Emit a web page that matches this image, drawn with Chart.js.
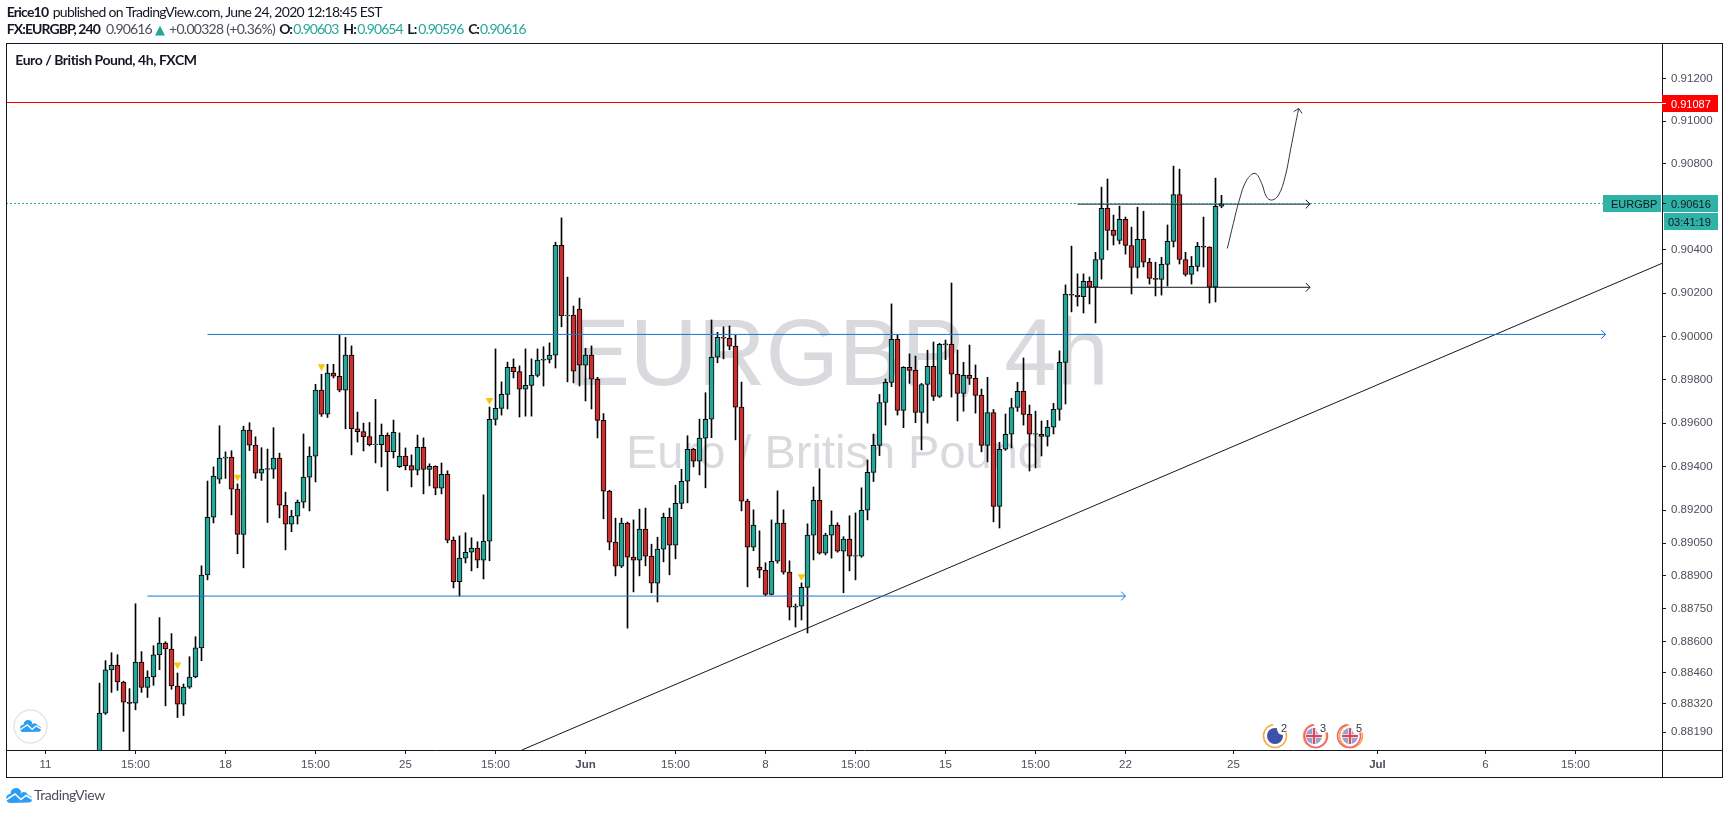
<!DOCTYPE html>
<html>
<head>
<meta charset="utf-8">
<title>EURGBP 4h</title>
<script src="https://cdn.jsdelivr.net/npm/chart.js@4/dist/chart.umd.js"></script>
<style>
  html, body { margin: 0; padding: 0; background: #fff; overflow: hidden; }
  canvas { display: block; }
</style>
</head>
<body>
<canvas id="chart" width="1729" height="814"></canvas>
<script>
// 4h candles, the first one sits on bar 15 of the time axis
const firstBar = 15;
const opens = [
  0.88020,0.88276,0.88472,0.88494,0.88417,0.88326,0.88321,0.88508,0.88393,0.88440,
  0.88540,0.88594,0.88567,0.88399,0.88317,0.88394,0.88440,0.88572,0.88904,0.89168,
  0.89343,0.89439,0.89444,0.89297,0.89090,0.89568,0.89499,0.89370,0.89387,0.89389,
  0.89439,0.89223,0.89136,0.89173,0.89237,0.89352,0.89448,0.89752,0.89641,0.89830,
  0.89816,0.89752,0.89913,0.89574,0.89561,0.89538,0.89501,0.89501,0.89544,0.89469,
  0.89400,0.89448,0.89405,0.89384,0.89489,0.89387,0.89402,0.89301,0.89365,0.89063,
  0.88874,0.88981,0.89008,0.89027,0.88972,0.89059,0.89617,0.89668,0.89732,0.89857,
  0.89837,0.89756,0.89774,0.89820,0.89890,0.89894,0.89913,0.90422,0.90094,0.90098,
  0.90126,0.89867,0.89913,0.89802,0.89613,0.89288,0.89054,0.88944,0.89141,0.88986,
  0.88972,0.89114,0.88990,0.88867,0.89022,0.89168,0.89040,0.89232,0.89333,0.89480,
  0.89425,0.89531,0.89618,0.89904,0.89996,0.89991,0.89955,0.89674,0.89242,0.89031,
  0.88940,0.88926,0.88816,0.88967,0.89141,0.88917,0.88757,0.88762,0.88848,0.89086,
  0.89246,0.89004,0.89086,0.89132,0.89013,0.89068,0.88990,0.88990,0.89200,0.89374,
  0.89498,0.89695,0.89788,0.89986,0.89659,0.89857,0.89843,0.89649,0.89778,0.89862,
  0.89723,0.89960,0.89963,0.89825,0.89737,0.89820,0.89806,0.89728,0.89498,0.89649,
  0.89218,0.89480,0.89549,0.89672,0.89746,0.89640,0.89549,0.89549,0.89539,0.89581,
  0.89663,0.89880,0.90194,0.90190,0.90184,0.90255,0.90227,0.90356,0.90593,0.90491,
  0.90444,0.90542,0.90421,0.90319,0.90449,0.90343,0.90268,0.90264,0.90333,0.90440,
  0.90658,0.90356,0.90287,0.90324,0.90417,0.90413,0.90227,0.90603
];
const highs = [
  0.88412,0.88514,0.88550,0.88541,0.88421,0.88387,0.88773,0.88555,0.88468,0.88582,
  0.88710,0.88600,0.88637,0.88458,0.88408,0.88532,0.88623,0.88946,0.89334,0.89399,
  0.89588,0.89468,0.89473,0.89321,0.89586,0.89602,0.89537,0.89487,0.89481,0.89579,
  0.89462,0.89283,0.89200,0.89247,0.89550,0.89491,0.89779,0.89825,0.89871,0.89871,
  0.90006,0.89995,0.89956,0.89651,0.89600,0.89603,0.89709,0.89596,0.89555,0.89614,
  0.89555,0.89486,0.89454,0.89545,0.89532,0.89413,0.89404,0.89417,0.89381,0.89078,
  0.89083,0.89097,0.89074,0.89056,0.89271,0.89674,0.89942,0.89790,0.89881,0.89896,
  0.89864,0.89942,0.89896,0.89942,0.89952,0.89970,0.90436,0.90549,0.90274,0.90140,
  0.90177,0.89945,0.89956,0.89811,0.89644,0.89292,0.89164,0.89164,0.89146,0.89156,
  0.89205,0.89210,0.89045,0.89077,0.89187,0.89210,0.89315,0.89388,0.89542,0.89484,
  0.89618,0.89740,0.90076,0.90019,0.90044,0.90048,0.90005,0.89789,0.89251,0.89202,
  0.89106,0.88960,0.89156,0.89289,0.89202,0.88969,0.88772,0.88868,0.89138,0.89307,
  0.89390,0.89095,0.89197,0.89143,0.89079,0.89175,0.89188,0.89303,0.89431,0.89550,
  0.89732,0.89803,0.90150,0.90007,0.89860,0.89919,0.89909,0.89783,0.89936,0.89974,
  0.89968,0.89983,0.90247,0.89937,0.89880,0.89960,0.89868,0.89757,0.89811,0.89663,
  0.89512,0.89642,0.89714,0.89788,0.89900,0.89683,0.89655,0.89610,0.89613,0.89691,
  0.89933,0.90238,0.90418,0.90289,0.90289,0.90275,0.90389,0.90692,0.90730,0.90562,
  0.90604,0.90553,0.90506,0.90599,0.90580,0.90361,0.90343,0.90366,0.90516,0.90790,
  0.90776,0.90389,0.90370,0.90435,0.90553,0.90415,0.90734,0.90654
];
const lows = [
  0.87980,0.88270,0.88370,0.88379,0.88193,0.88080,0.88291,0.88370,0.88347,0.88402,
  0.88473,0.88309,0.88384,0.88256,0.88265,0.88388,0.88436,0.88514,0.88882,0.89142,
  0.89323,0.89346,0.89179,0.89001,0.88937,0.89474,0.89346,0.89337,0.89144,0.89346,
  0.89165,0.89019,0.89102,0.89137,0.89211,0.89197,0.89330,0.89631,0.89626,0.89808,
  0.89744,0.89574,0.89454,0.89513,0.89472,0.89495,0.89417,0.89399,0.89289,0.89440,
  0.89396,0.89385,0.89307,0.89362,0.89275,0.89312,0.89271,0.89275,0.89051,0.88845,
  0.88808,0.88959,0.88923,0.88937,0.88886,0.88969,0.89591,0.89637,0.89665,0.89808,
  0.89628,0.89632,0.89632,0.89813,0.89771,0.89877,0.89854,0.90044,0.89790,0.89785,
  0.89771,0.89702,0.89665,0.89532,0.89161,0.89019,0.88900,0.88938,0.88662,0.88827,
  0.88900,0.88946,0.88823,0.88781,0.88964,0.88905,0.88978,0.89207,0.89234,0.89399,
  0.89362,0.89303,0.89533,0.89878,0.89896,0.89938,0.89523,0.89197,0.88850,0.89015,
  0.88891,0.88809,0.88813,0.88958,0.88908,0.88699,0.88667,0.88699,0.88640,0.88973,
  0.88999,0.88996,0.88981,0.89008,0.88823,0.88923,0.88882,0.88985,0.89156,0.89332,
  0.89451,0.89591,0.89768,0.89637,0.89579,0.89783,0.89602,0.89477,0.89600,0.89704,
  0.89718,0.89892,0.89720,0.89610,0.89655,0.89778,0.89646,0.89468,0.89422,0.89147,
  0.89119,0.89475,0.89486,0.89654,0.89591,0.89380,0.89394,0.89449,0.89495,0.89550,
  0.89613,0.89688,0.90113,0.90140,0.90108,0.90150,0.90062,0.90265,0.90400,0.90423,
  0.90428,0.90381,0.90196,0.90270,0.90321,0.90242,0.90187,0.90191,0.90233,0.90414,
  0.90335,0.90279,0.90242,0.90302,0.90321,0.90154,0.90159,0.90596
];
const closes = [
  0.88276,0.88472,0.88494,0.88417,0.88326,0.88320,0.88508,0.88393,0.88440,0.88540,
  0.88594,0.88567,0.88399,0.88317,0.88394,0.88440,0.88572,0.88904,0.89168,0.89357,
  0.89439,0.89444,0.89297,0.89090,0.89568,0.89499,0.89370,0.89389,0.89391,0.89439,
  0.89223,0.89136,0.89173,0.89237,0.89352,0.89448,0.89752,0.89641,0.89830,0.89816,
  0.89752,0.89913,0.89574,0.89561,0.89538,0.89501,0.89504,0.89544,0.89469,0.89558,
  0.89448,0.89405,0.89384,0.89489,0.89387,0.89402,0.89301,0.89365,0.89063,0.88874,
  0.88981,0.89008,0.89027,0.88972,0.89059,0.89617,0.89668,0.89732,0.89857,0.89837,
  0.89756,0.89774,0.89820,0.89890,0.89894,0.89913,0.90422,0.90094,0.90098,0.89839,
  0.89867,0.89913,0.89802,0.89613,0.89288,0.89054,0.88944,0.89141,0.88986,0.88972,
  0.89114,0.88990,0.88867,0.89022,0.89168,0.89040,0.89232,0.89333,0.89480,0.89425,
  0.89531,0.89618,0.89904,0.89996,0.89992,0.89955,0.89674,0.89242,0.89031,0.89132,
  0.88926,0.88816,0.88967,0.89141,0.88917,0.88757,0.88762,0.88848,0.89086,0.89246,
  0.89004,0.89086,0.89132,0.89013,0.89068,0.88990,0.88993,0.89200,0.89374,0.89498,
  0.89695,0.89788,0.89986,0.89659,0.89857,0.89843,0.89649,0.89778,0.89862,0.89723,
  0.89963,0.89965,0.89825,0.89737,0.89820,0.89806,0.89728,0.89498,0.89649,0.89218,
  0.89480,0.89549,0.89672,0.89746,0.89640,0.89549,0.89552,0.89539,0.89581,0.89663,
  0.89880,0.90195,0.90190,0.90184,0.90255,0.90227,0.90356,0.90593,0.90491,0.90468,
  0.90542,0.90421,0.90319,0.90449,0.90343,0.90268,0.90264,0.90333,0.90440,0.90658,
  0.90356,0.90287,0.90324,0.90417,0.90413,0.90227,0.90603,0.90616
];

// axis ticks
const yTicks = [0.912,0.91,0.908,0.904,0.902,0.9,0.898,0.896,0.894,0.892,0.8905,0.889,0.8875,0.886,0.8846,0.8832,0.8819];
const xTickBars = [6,21,36,51,66,81,96,111,126,141,156,171,186,204,228,246,261];
const xTickLabels = ['11','15:00','18','15:00','25','15:00','Jun','15:00','8','15:00','15','15:00','22','25','Jul','6','15:00'];

// visible range of the axes
const barMin = -0.5833, barMax = 275.4167;
const priceMin = 0.88109, priceMax = 0.91361;

// drawings on the chart
const resistance = 0.91087;
const lastPrice = 0.90616;
const rangeTop = 0.90613, rangeBottom = 0.90227, rangeBars = [178, 216.75];
const upperBlue = 0.90009, upperBlueBars = [33, 266];
const lowerBlue = 0.88808, lowerBlueBars = [23, 186];
const trendBars = [85.4, 275.4167], trendPrices = [0.88109, 0.90338];
const pathBars = [202.97,203.97,204.97,206.2,207.6,208.7,209.5,210.4,211.5,212.6,213.5,214.25,214.86];
const pathPrices = [0.90407,0.90523,0.90632,0.90725,0.90756,0.90709,0.90647,0.90632,0.90655,0.90740,0.90865,0.90974,0.91059];
const markerBars = [28,38,52,80,132];
const markerPrices = [0.88496,0.89352,0.89861,0.89705,0.88897];

const UP = '#26a69a', DOWN = '#c9302f', INK = '#131722', BLUE = '#1976d2';
const TAG = '#2fb3a6';
const SANS = '"Liberation Sans", Arial, sans-serif';
const HEAD = 'Lato, "Open Sans", sans-serif';

const barX = i => firstBar + i;

function hLine(price, bars, color, extra) {
  return Object.assign({
    type: 'line',
    data: bars.map(b => ({ x: b, y: price })),
    borderColor: color,
    borderWidth: 1,
    pointRadius: 0,
    order: 0
  }, extra);
}

const datasets = [
  {
    type: 'bar',
    data: opens.map((o, i) => ({ x: barX(i), y: [lows[i], highs[i]] })),
    backgroundColor: '#000',
    borderWidth: 0,
    barThickness: 1,
    grouped: false,
    order: 2
  },
  {
    type: 'bar',
    data: opens.map((o, i) => ({ x: barX(i), y: [o, closes[i]] })),
    backgroundColor: opens.map((o, i) => closes[i] >= o ? UP : DOWN),
    borderColor: '#000',
    borderWidth: 1,
    borderSkipped: false,
    barThickness: 5,
    grouped: false,
    order: 1
  },
  hLine(resistance, [barMin, barMax], '#ff0000'),
  hLine(lastPrice, [barMin, barMax], UP, { borderDash: [2, 2] }),
  hLine(rangeTop, rangeBars, INK, { arrow: true }),
  hLine(rangeBottom, rangeBars, INK, { arrow: true }),
  hLine(upperBlue, upperBlueBars, BLUE, { arrow: true }),
  hLine(lowerBlue, lowerBlueBars, BLUE, { arrow: true }),
  {
    type: 'line',
    data: trendBars.map((b, i) => ({ x: b, y: trendPrices[i] })),
    borderColor: INK,
    borderWidth: 1,
    pointRadius: 0,
    order: 0
  },
  {
    type: 'line',
    data: pathBars.map((b, i) => ({ x: b, y: pathPrices[i] })),
    borderColor: '#33363f',
    borderWidth: 1,
    pointRadius: 0,
    tension: 0.4,
    arrow: true,
    order: 0
  },
  {
    type: 'scatter',
    data: markerBars.map((b, i) => ({ x: b, y: markerPrices[i] })),
    backgroundColor: '#f5c80f',
    borderWidth: 0,
    pointStyle: 'triangle',
    pointRotation: 180,
    pointRadius: 4.5,
    order: 0
  }
];

// draws text between x1 and x2, squeezing the letter spacing to fit
function drawFit(ctx, text, x1, x2, y, font, color) {
  ctx.font = font;
  ctx.fillStyle = color;
  ctx.letterSpacing = '0px';
  const natural = ctx.measureText(text).width;
  ctx.letterSpacing = ((x2 - x1 - natural) / text.length).toFixed(3) + 'px';
  ctx.fillText(text, x1, y);
  ctx.letterSpacing = '0px';
}

// blue TradingView cloud with the white zigzag through it
function drawCloud(ctx, x, y, w) {
  ctx.save();
  ctx.translate(x, y);
  ctx.scale(w / 26, w / 26);
  ctx.fillStyle = '#2a9df4';
  ctx.beginPath();
  ctx.arc(4.5, 10.5, 4.5, Math.PI * 0.5, Math.PI * 1.5);
  ctx.arc(10, 5.5, 5.5, Math.PI, Math.PI * 1.9);
  ctx.arc(18, 8, 4, Math.PI * 1.1, Math.PI * 1.8);
  ctx.arc(22.5, 11, 3.5, Math.PI * 1.5, Math.PI * 0.5);
  ctx.closePath();
  ctx.fill();
  ctx.strokeStyle = '#fff';
  ctx.lineWidth = 1.6;
  ctx.beginPath();
  ctx.moveTo(0, 12);
  ctx.lineTo(9, 6);
  ctx.lineTo(15, 11.5);
  ctx.lineTo(20, 7.5);
  ctx.lineTo(26, 11);
  ctx.stroke();
  ctx.restore();
}

function drawEventIcon(ctx, x, y, uk, label, pink) {
  ctx.save();
  ctx.beginPath();
  ctx.arc(x, y, 8, 0, Math.PI * 2);
  ctx.clip();
  ctx.fillStyle = uk ? '#9aa2d0' : '#3f51a8';
  ctx.fillRect(x - 8, y - 8, 16, 16);
  if (uk) {
    ctx.fillStyle = '#f4d6dc';
    ctx.fillRect(x - 8, y - 2, 16, 4);
    ctx.fillRect(x - 2, y - 8, 4, 16);
    ctx.fillStyle = '#d8485f';
    ctx.fillRect(x - 8, y - 1, 16, 2);
    ctx.fillRect(x - 1, y - 8, 2, 16);
  }
  ctx.restore();
  ctx.fillStyle = '#fff';
  ctx.beginPath();
  ctx.arc(x + 8, y - 7, 6, 0, Math.PI * 2);
  ctx.fill();
  ctx.lineWidth = 1.5;
  ctx.strokeStyle = '#f7a83c';
  ctx.beginPath();
  ctx.arc(x + (pink ? 1 : 0), y, 11.5, Math.PI * -0.1, Math.PI * 1.45);
  ctx.stroke();
  if (pink) {
    ctx.strokeStyle = '#f0607c';
    ctx.beginPath();
    ctx.arc(x + (label === '3' ? 2 : -1), y, 11.5, Math.PI * -0.1, Math.PI * 1.45);
    ctx.stroke();
  }
  ctx.font = '11px ' + SANS;
  ctx.fillStyle = '#33363f';
  ctx.textAlign = 'left';
  ctx.fillText(label, x + 6, y - 4);
}

function drawTag(ctx, x, y, w, h, color, text, textColor, textX) {
  ctx.fillStyle = color;
  ctx.fillRect(x, y, w, h);
  ctx.fillStyle = textColor;
  ctx.textAlign = 'left';
  ctx.font = '11px ' + SANS;
  ctx.fillText(text, textX, y + h / 2 + 4);
}

const tvOverlay = {
  id: 'tvOverlay',
  beforeDatasetsDraw(chart) {
    const ctx = chart.ctx;
    ctx.save();
    ctx.fillStyle = '#d9dade';
    ctx.textAlign = 'center';
    ctx.font = '94px ' + SANS;
    ctx.fillText('EURGBP, 4h', 838, 385);
    ctx.font = '47px ' + SANS;
    ctx.fillText('Euro / British Pound', 835, 468);
    ctx.restore();
  },
  afterDatasetsDraw(chart) {
    const ctx = chart.ctx;
    ctx.save();
    chart.data.datasets.forEach((ds, i) => {
      if (!ds.arrow) return;
      const pts = chart.getDatasetMeta(i).data;
      const tip = pts[pts.length - 1], prev = pts[pts.length - 2];
      const a = Math.atan2(tip.y - prev.y, tip.x - prev.x);
      ctx.strokeStyle = ds.borderColor;
      ctx.lineWidth = 1;
      ctx.beginPath();
      ctx.moveTo(tip.x - 6 * Math.cos(a - 0.8), tip.y - 6 * Math.sin(a - 0.8));
      ctx.lineTo(tip.x, tip.y);
      ctx.lineTo(tip.x - 6 * Math.cos(a + 0.8), tip.y - 6 * Math.sin(a + 0.8));
      ctx.stroke();
    });
    ctx.restore();
  },
  afterDraw(chart) {
    const ctx = chart.ctx;
    const y = chart.scales.y;
    ctx.save();

    // frame of the pane and the two axes
    ctx.strokeStyle = INK;
    ctx.lineWidth = 1;
    ctx.strokeRect(6.5, 43.5, 1716, 734);
    ctx.beginPath();
    ctx.moveTo(1662.5, 43);
    ctx.lineTo(1662.5, 778);
    ctx.moveTo(6, 750.5);
    ctx.lineTo(1723, 750.5);
    ctx.stroke();

    // price tags
    const redY = Math.round(y.getPixelForValue(resistance));
    const lastY = Math.round(y.getPixelForValue(lastPrice));
    drawTag(ctx, 1662, redY - 8, 56, 17, '#ff0000', resistance.toFixed(5), '#fff', 1671);
    drawTag(ctx, 1603, lastY - 8, 58, 17, TAG, 'EURGBP', INK, 1611);
    drawTag(ctx, 1663, lastY - 8, 55, 17, TAG, lastPrice.toFixed(5), INK, 1671);
    drawTag(ctx, 1664, lastY + 10, 54, 17, TAG, '03:41:19', INK, 1668);
    ctx.fillStyle = INK;
    ctx.fillRect(1662, lastY, 4, 1);
    ctx.fillStyle = '#fff';
    ctx.fillRect(1662, redY, 4, 1);

    // header lines
    ctx.textAlign = 'left';
    const bold = 'bold 14px ' + HEAD, plain = '14px ' + HEAD, grey = '#4a4f5a';
    drawFit(ctx, 'Erice10', 6.7, 48.3, 17, bold, INK);
    drawFit(ctx, 'published on TradingView.com, June 24, 2020 12:18:45 EST', 52.7, 381.7, 17, plain, INK);
    drawFit(ctx, 'FX:EURGBP, 240', 6.7, 100, 34, bold, INK);
    drawFit(ctx, '0.90616', 106, 151.7, 34, plain, grey);
    ctx.font = '13px "DejaVu Sans"';
    ctx.fillStyle = UP;
    ctx.fillText('▲', 155, 34);
    drawFit(ctx, '+0.00328 (+0.36%)', 169, 275, 34, plain, grey);
    drawFit(ctx, 'O:', 279.3, 291.7, 34, bold, INK);
    drawFit(ctx, '0.90603', 293.3, 338.3, 34, plain, UP);
    drawFit(ctx, 'H:', 343.3, 356, 34, bold, INK);
    drawFit(ctx, '0.90654', 357.3, 402.7, 34, plain, UP);
    drawFit(ctx, 'L:', 407.3, 416.7, 34, bold, INK);
    drawFit(ctx, '0.90596', 418.3, 463.3, 34, plain, UP);
    drawFit(ctx, 'C:', 468.3, 478.3, 34, bold, INK);
    drawFit(ctx, '0.90616', 480, 525.7, 34, plain, UP);
    drawFit(ctx, 'Euro / British Pound, 4h, FXCM', 15.3, 196.7, 65, bold, INK);

    // economic event icons
    drawEventIcon(ctx, 1275, 736, false, '2', false);
    drawEventIcon(ctx, 1314, 736, true, '3', true);
    drawEventIcon(ctx, 1350, 736, true, '5', true);

    // logo button on the chart and brand below it
    ctx.strokeStyle = '#e6e6e6';
    ctx.fillStyle = '#fff';
    ctx.beginPath();
    ctx.arc(30.5, 726.5, 16.5, 0, Math.PI * 2);
    ctx.fill();
    ctx.stroke();
    drawCloud(ctx, 20, 720, 21);
    drawCloud(ctx, 6, 788, 26);
    drawFit(ctx, 'TradingView', 34, 104.7, 800, '14px ' + HEAD, grey);
    ctx.restore();
  }
};

new Chart(document.getElementById('chart').getContext('2d'), {
  data: { datasets: datasets },
  plugins: [tvOverlay],
  options: {
    responsive: false,
    animation: false,
    events: [],
    layout: { padding: { left: 6, top: 44, right: 7, bottom: 37 } },
    plugins: { legend: { display: false }, tooltip: { enabled: false } },
    scales: {
      x: {
        type: 'linear',
        min: barMin,
        max: barMax,
        offset: false,
        afterFit: s => { s.height = 27; },
        afterBuildTicks: s => { s.ticks = xTickBars.map(v => ({ value: v })); },
        grid: { drawOnChartArea: false, offset: false, tickLength: 4, tickColor: INK },
        border: { display: false },
        ticks: {
          autoSkip: false,
          maxRotation: 0,
          padding: 4,
          color: '#4a4f5a',
          font: c => ({
            family: SANS,
            size: 11.5,
            weight: c.tick && ['Jun', 'Jul'].includes(xTickLabels[xTickBars.indexOf(c.tick.value)]) ? 'bold' : 'normal'
          }),
          callback: v => xTickLabels[xTickBars.indexOf(v)]
        }
      },
      y: {
        type: 'logarithmic',
        position: 'right',
        min: priceMin,
        max: priceMax,
        bounds: 'data',
        afterFit: s => { s.width = 60; },
        afterBuildTicks: s => { s.ticks = yTicks.map(v => ({ value: v })); },
        grid: { drawOnChartArea: false, tickLength: 4, tickColor: INK },
        border: { display: false },
        ticks: {
          autoSkip: false,
          padding: 5,
          color: '#4a4f5a',
          font: { family: SANS, size: 11.5 },
          callback: v => v.toFixed(5)
        }
      }
    }
  }
});
</script>
</body>
</html>
